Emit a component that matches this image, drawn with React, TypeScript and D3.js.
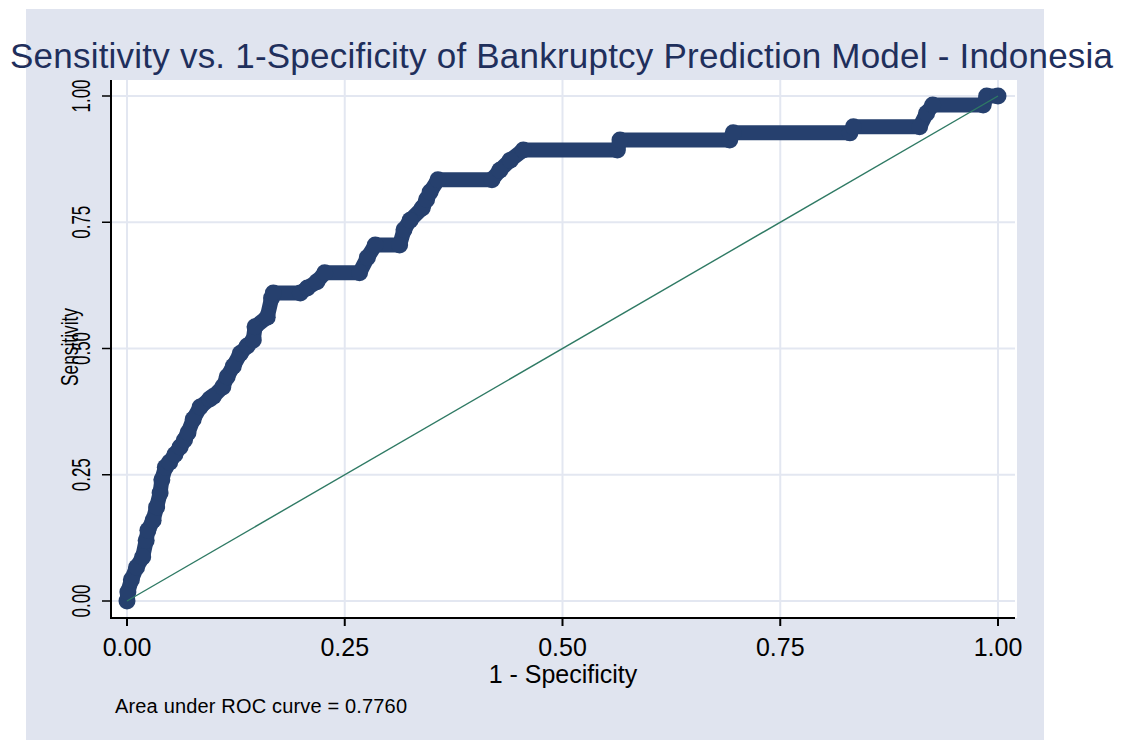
import React from "react";
import * as d3 from "d3";

const fpr = [0, 0.001, 0.005, 0.011, 0.018, 0.022, 0.024, 0.030, 0.034, 0.038, 0.040, 0.044, 0.049, 0.055, 0.061, 0.066, 0.070, 0.076, 0.084, 0.095, 0.099, 0.110, 0.115, 0.122, 0.130, 0.138, 0.145, 0.147, 0.161, 0.166, 0.168, 0.199, 0.207, 0.218, 0.227, 0.267, 0.276, 0.285, 0.313, 0.318, 0.325, 0.339, 0.344, 0.348, 0.357, 0.419, 0.428, 0.440, 0.455, 0.563, 0.566, 0.692, 0.696, 0.830, 0.834, 0.910, 0.918, 0.925, 0.983, 0.987, 1.0];
const tpr = [0, 0.018, 0.042, 0.067, 0.087, 0.120, 0.140, 0.160, 0.186, 0.214, 0.240, 0.265, 0.275, 0.290, 0.305, 0.319, 0.333, 0.360, 0.384, 0.400, 0.405, 0.424, 0.444, 0.465, 0.490, 0.505, 0.517, 0.543, 0.562, 0.600, 0.610, 0.610, 0.620, 0.632, 0.650, 0.650, 0.680, 0.705, 0.705, 0.735, 0.754, 0.778, 0.795, 0.810, 0.834, 0.834, 0.853, 0.873, 0.893, 0.893, 0.913, 0.913, 0.927, 0.927, 0.939, 0.939, 0.966, 0.982, 0.982, 1.0, 1.0];
const ticks = [0, 0.25, 0.5, 0.75, 1];
const tickLabels = ["0.00", "0.25", "0.50", "0.75", "1.00"];
const title = "Sensitivity vs. 1-Specificity of Bankruptcy Prediction Model - Indonesia";
const xTitle = "1 - Specificity";
const yTitle = "Sensitivity";
const note = "Area under ROC curve = 0.7760";

export default function App() {
  const W = 1125, H = 740;
  const x = d3.scaleLinear().domain([0, 1]).range([127, 998]);
  const y = d3.scaleLinear().domain([0, 1]).range([601, 96]);
  const pts = fpr.map((v, i) => [v, tpr[i]] as [number, number]);
  const line = d3.line<[number, number]>().x(d => x(d[0])).y(d => y(d[1]));
  const font = "'Liberation Sans', Arial, sans-serif";
  const navy = "#26406e";
  const grid = "#e3e7f1";
  return (
    <svg width={W} height={H} style={{ position: "absolute", left: 0, top: 0 }} fontFamily={font}>
      <rect x={0} y={0} width={W} height={H} fill="#ffffff" />
      <rect x={26} y={9} width={1018} height={H - 9} fill="#e0e4ef" />
      <rect x={111} y={80} width={906} height={538} fill="#ffffff" />
      {ticks.map((t, i) => (
        <g key={"g" + i}>
          <line x1={x(t)} x2={x(t)} y1={80} y2={618} stroke={grid} strokeWidth={2} />
          <line x1={111} x2={1015} y1={y(t)} y2={y(t)} stroke={grid} strokeWidth={2} />
        </g>
      ))}
      <path d={line(pts) || ""} fill="none" stroke={navy} strokeWidth={15} strokeLinejoin="round" strokeLinecap="round" />
      {pts.map((p, i) => (
        <circle key={"c" + i} cx={x(p[0])} cy={y(p[1])} r={8.5} fill={navy} />
      ))}
      <line x1={x(0)} y1={y(0)} x2={x(1)} y2={y(1)} stroke="#2f7a64" strokeWidth={1.4} />
      <line x1={111} x2={111} y1={80} y2={619} stroke="#000" strokeWidth={2} />
      <line x1={110} x2={1015} y1={618} y2={618} stroke="#000" strokeWidth={2} />
      {ticks.map((t, i) => (
        <g key={"t" + i}>
          <line x1={x(t)} x2={x(t)} y1={618} y2={626} stroke="#000" strokeWidth={2} />
          <text x={x(t)} y={656} fontSize={25} textAnchor="middle" fill="#000">{tickLabels[i]}</text>
          <line x1={102} x2={111} y1={y(t)} y2={y(t)} stroke="#000" strokeWidth={1.5} />
          <text transform={`translate(90,${y(t)}) rotate(-90)`} fontSize={25} textAnchor="middle" fill="#000" textLength={33} lengthAdjust="spacingAndGlyphs">{tickLabels[i]}</text>
        </g>
      ))}
      <text x={10} y={68} fontSize={35} fill="#1f2f5c" textLength={1103} lengthAdjust="spacing">{title}</text>
      <text x={563} y={683} fontSize={25} textAnchor="middle" fill="#000">{xTitle}</text>
      <text transform={`translate(78,347) rotate(-90)`} fontSize={24} textAnchor="middle" fill="#000" textLength={78} lengthAdjust="spacingAndGlyphs">{yTitle}</text>
      <text x={115} y={713} fontSize={20} fill="#000" textLength={292} lengthAdjust="spacing">{note}</text>
    </svg>
  );
}
